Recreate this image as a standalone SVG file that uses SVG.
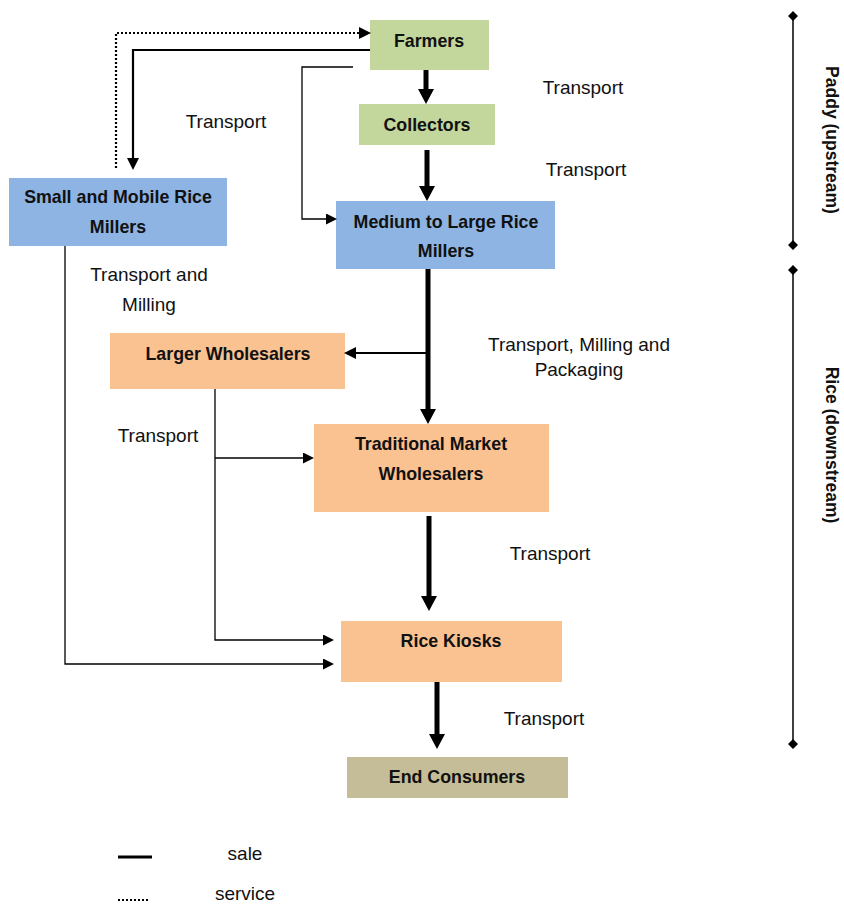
<svg xmlns="http://www.w3.org/2000/svg" width="844" height="905" viewBox="0 0 844 905">
<style>
text{font-family:"Liberation Sans",Arial,sans-serif;fill:#111}
.b{font-weight:bold;font-size:17.8px;text-anchor:middle}
.l{font-size:19px;text-anchor:middle}
.g{fill:#c3d69b}.u{fill:#8eb4e3}.o{fill:#fac191}.t{fill:#c4bd97}
.thick{stroke:#000;stroke-width:5;fill:none}
.med{stroke:#000;stroke-width:2.2;fill:none}
.thin{stroke:#000;stroke-width:1.3;fill:none}
</style>
<defs>
<marker id="hb" markerUnits="userSpaceOnUse" markerWidth="16" markerHeight="16" refX="0" refY="7.5" orient="auto" viewBox="0 0 14 15"><path d="M0,0 L14,7.5 L0,15 z" fill="#000"/></marker>
<marker id="hm" markerUnits="userSpaceOnUse" markerWidth="12" markerHeight="12" refX="0" refY="5.5" orient="auto" viewBox="0 0 11 11"><path d="M0,0 L11,5.5 L0,11 z" fill="#000"/></marker>
<marker id="ht" markerUnits="userSpaceOnUse" markerWidth="11" markerHeight="11" refX="0" refY="5" orient="auto" viewBox="0 0 10 10"><path d="M0,0 L10,5 L0,10 z" fill="#000"/></marker>
</defs>
<g id="farmers"><rect class="g" x="370" y="20" width="119" height="50"/><text class="b" x="429" y="47">Farmers</text></g>
<g id="collectors"><rect class="g" x="359" y="104" width="136" height="41"/><text class="b" x="427" y="131">Collectors</text></g>
<g id="medium-large-millers"><rect class="u" x="336" y="201" width="219" height="68"/><text class="b" x="446" y="228">Medium to Large Rice</text><text class="b" x="446" y="257">Millers</text></g>
<g id="small-mobile-millers"><rect class="u" x="9" y="178" width="218" height="68"/><text class="b" x="118" y="203">Small and Mobile Rice</text><text class="b" x="118" y="233">Millers</text></g>
<g id="larger-wholesalers"><rect class="o" x="110" y="333" width="235" height="56"/><text class="b" x="228" y="360">Larger Wholesalers</text></g>
<g id="traditional-wholesalers"><rect class="o" x="314" y="424" width="235" height="88"/><text class="b" x="431" y="450">Traditional Market</text><text class="b" x="431" y="480">Wholesalers</text></g>
<g id="rice-kiosks"><rect class="o" x="341" y="621" width="221" height="61"/><text class="b" x="451" y="647">Rice Kiosks</text></g>
<g id="end-consumers"><rect class="t" x="347" y="757" width="221" height="41"/><text class="b" x="457" y="783">End Consumers</text></g>
<g id="connectors">
<path class="thick" d="M426,70 V89" marker-end="url(#hb)"/>
<path class="thick" d="M427,150 V186" marker-end="url(#hb)"/>
<path class="thick" d="M428,269 V409" marker-end="url(#hb)"/>
<path class="med" d="M428,353 H356" marker-end="url(#hm)"/>
<path class="thick" d="M429,516 V596" marker-end="url(#hb)"/>
<path class="thick" d="M437,682 V734" marker-end="url(#hb)"/>
<path class="med" d="M370,50 H133 V158" marker-end="url(#hm)"/>
<path class="med" d="M116,168 V33 H359" stroke-dasharray="2,2" marker-end="url(#hm)"/>
<path class="thin" d="M353,67 H302 V219 H326" marker-end="url(#ht)"/>
<path class="thin" d="M215,389 V640 H323" marker-end="url(#ht)"/>
<path class="thin" d="M215,458 H303" marker-end="url(#ht)"/>
<path class="thin" d="M65,246 V664 H323" marker-end="url(#ht)"/>
</g>
<g id="labels">
<text class="l" x="583" y="94">Transport</text>
<text class="l" x="586" y="176">Transport</text>
<text class="l" x="226" y="128">Transport</text>
<text class="l" x="149" y="281">Transport and</text>
<text class="l" x="149" y="311">Milling</text>
<text class="l" x="579" y="351">Transport, Milling and</text>
<text class="l" x="579" y="376">Packaging</text>
<text class="l" x="158" y="442">Transport</text>
<text class="l" x="550" y="560">Transport</text>
<text class="l" x="544" y="725">Transport</text>
</g>
<g id="stages">
<line x1="793" y1="16" x2="793" y2="245" stroke="#000" stroke-width="1.5"/>
<path d="M793,11 L798,16 L793,21 L788,16 z M793,240 L798,245 L793,250 L788,245 z" fill="#000"/>
<text class="b" transform="translate(826,140) rotate(90)" style="font-size:17.5px">Paddy (upstream)</text>
<line x1="793" y1="270" x2="793" y2="744" stroke="#000" stroke-width="1.5"/>
<path d="M793,265 L798,270 L793,275 L788,270 z M793,739 L798,744 L793,749 L788,744 z" fill="#000"/>
<text class="b" transform="translate(826,445) rotate(90)" style="font-size:17.5px">Rice (downstream)</text>
</g>
<g id="legend">
<line x1="118" y1="857" x2="152" y2="857" stroke="#000" stroke-width="3"/>
<text class="l" x="245" y="860">sale</text>
<line x1="118" y1="900" x2="150" y2="900" stroke="#000" stroke-width="2" stroke-dasharray="2,2"/>
<text class="l" x="245" y="900">service</text>
</g>
</svg>
